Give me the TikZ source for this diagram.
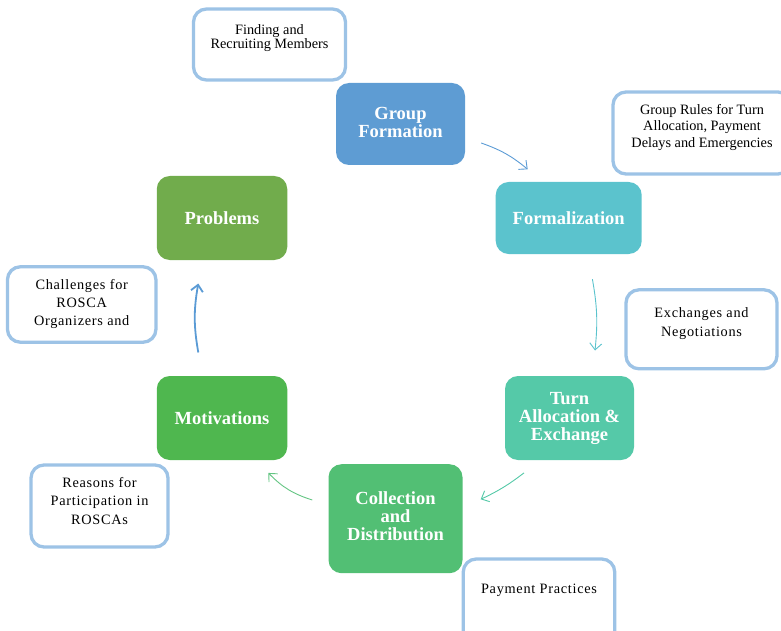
\documentclass[tikz,border=0pt]{standalone}
\usepackage{fontspec}
\setmainfont{Liberation Serif}
\newfontfamily\wide[LetterSpace=5.0]{Liberation Serif}
\usetikzlibrary{arrows.meta}

\definecolor{gfblue}{HTML}{5E9CD3}
\definecolor{foteal}{HTML}{5BC3CD}
\definecolor{tagreen}{HTML}{55C9A8}
\definecolor{cdgreen}{HTML}{52BF74}
\definecolor{mogreen}{HTML}{4FB74F}
\definecolor{prgreen}{HTML}{71AC4C}
\definecolor{noteblue}{HTML}{9DC3E6}
\definecolor{arrblue}{HTML}{5B9BD5}

\begin{document}
\begin{tikzpicture}[x=1pt,y=-1pt]
				\tikzstyle{Stage} = [rectangle, rounded corners=13pt, inner sep=0pt, align=center, text=white, font=\fontsize{18.5}{18}\selectfont\bfseries]
				\tikzstyle{Note} = [rectangle, rounded corners=13pt, draw=noteblue, line width=3.3pt, fill=white, inner sep=0pt, align=center]
				\tikzstyle{Flow} = [-{Straight Barb[length=6.5pt,width=12pt]}, line width=0.9pt]
				\useasboundingbox (0,0) rectangle (781,631);
				\clip (0,0) rectangle (781,631);
				% the six stages of the cycle
				\node (GF) at (400.5,124) [Stage, fill=gfblue, minimum width=129pt, minimum height=82pt, text depth=4pt] {Group\\Formation};
				\node (FO) at (568.7,218) [Stage, fill=foteal, minimum width=146pt, minimum height=72pt] {Formalization};
				\node (TA) at (569.5,418) [Stage, fill=tagreen, minimum width=129pt, minimum height=84pt] {Turn\\Allocation \&\\Exchange};
				\node (CD) at (395.5,518.7) [Stage, fill=cdgreen, minimum width=134pt, minimum height=109pt, text depth=5pt] {Collection\\and\\Distribution};
				\node (MO) at (222,418) [Stage, fill=mogreen, minimum width=130.5pt, minimum height=84pt] {Motivations};
				\node (PR) at (222,218) [Stage, fill=prgreen, minimum width=130.5pt, minimum height=84pt] {Problems};
				% notes beside the stages
				\node (GFn) at (269.5,44.5) [Note, minimum width=152pt, minimum height=71pt, text depth=15.7pt, font=\fontsize{14.3}{14.7}\selectfont] {Finding and\\Recruiting Members};
				\node (FOn) at (702,133) [Note, minimum width=178pt, minimum height=82pt, text depth=14.4pt, font=\fontsize{14.3}{16.5}\selectfont] {Group Rules for Turn\\Allocation, Payment\\Delays and Emergencies};
				\node (TAn) at (701.5,329.3) [Note, minimum width=151pt, minimum height=79pt, text depth=14.6pt, font=\wide\fontsize{14.3}{19.4}\selectfont] {Exchanges and\\Negotiations};
				\node (CDn) at (539,602) [Note, minimum width=151.5pt, minimum height=86pt, text depth=27.4pt, font=\wide\fontsize{14.3}{18}\selectfont] {Payment Practices};
				\node (MOn) at (99.5,506) [Note, minimum width=137pt, minimum height=82pt, text depth=10.2pt, font=\wide\fontsize{14.3}{18.2}\selectfont] {Reasons for\\Participation in\\ROSCAs};
				\node (PRn) at (81.7,304.5) [Note, minimum width=148.5pt, minimum height=75.5pt, text depth=4.4pt, font=\wide\fontsize{14.3}{18.3}\selectfont] {Challenges for\\ROSCA\\Organizers and};
				% arrows round the cycle
				\draw [Flow, arrblue] ([shift={(16,19)}]GF.east) to [bend left=10] ([shift={(-41,-12.5)}]FO.north);
				\draw [Flow, foteal] ([shift={(23.7,25)}]FO.south) to [bend left=8] ([shift={(25.5,-25.3)}]TA.north);
				\draw [Flow, tagreen] ([shift={(-45.5,12.7)}]TA.south) to [bend left=6] ([shift={(18,-19.4)}]CD.east);
				\draw [Flow, cdgreen!90!white] ([shift={(-16,-18.7)}]CD.west) to [bend left=14] ([shift={(46.3,12.7)}]MO.south);
				\draw [Flow, arrblue, line width=1.8pt] ([shift={(-23.7,-23.3)}]MO.north) to [bend left=10] ([shift={(-23.7,23.3)}]PR.south);
			\end{tikzpicture}
\end{document}
